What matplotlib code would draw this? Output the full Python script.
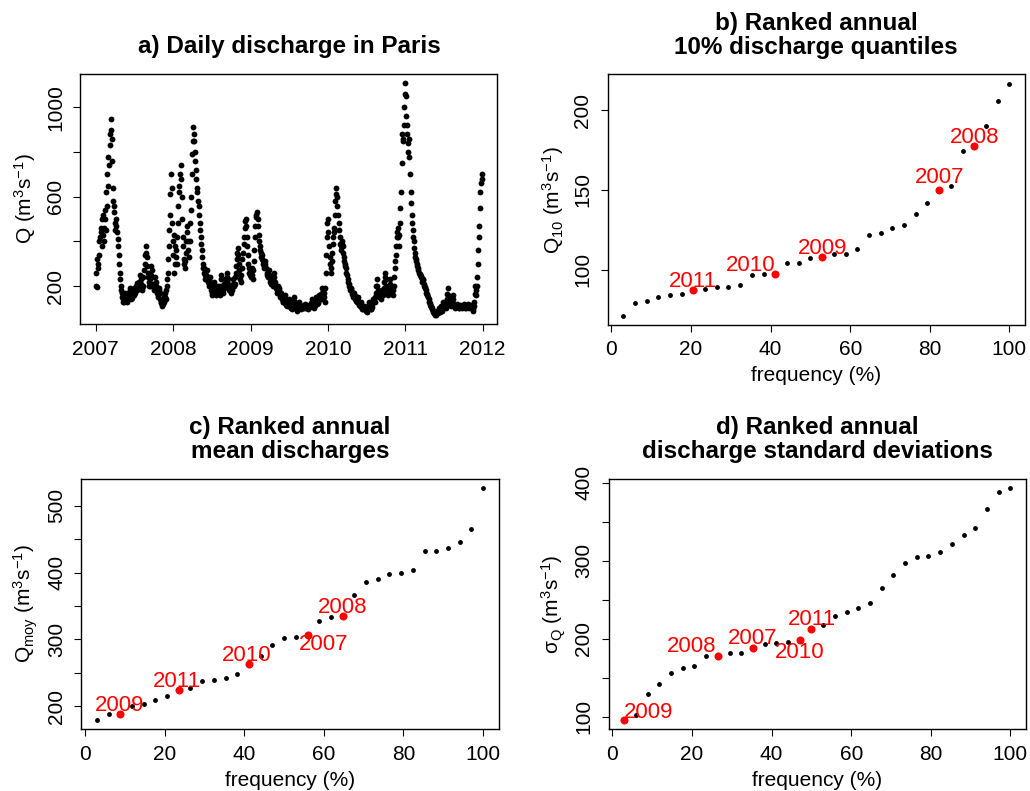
import numpy as np
import matplotlib
matplotlib.use('Agg')
import matplotlib.pyplot as plt
import matplotlib.dates as mdates

##====================================================
# Data
##====================================================
# daily discharge in Paris (m3/s), read every 5 days (day 0, 5, 10, ...)
q2007 = [200, 195, 300, 340, 420, 460, 380, 520, 460, 540, 620, 700, 780, 880, 950, 860,
         640, 530, 480, 500, 440, 380, 300, 230, 180, 150, 140, 130, 170, 150, 140, 175,
         190, 150, 145, 165, 190, 170, 200, 215, 190, 220, 250, 210, 180, 240, 300, 380,
         330, 260, 220, 200, 250, 270, 210, 180, 240, 200, 170, 150, 190, 140, 125, 120,
         150, 170, 140, 230, 320, 450, 610, 700, 480]
q2008 = [340, 430, 300, 360, 420, 560, 650, 740, 600, 420, 320, 280, 350, 440, 400, 330,
         480, 600, 790, 910, 850, 760, 680, 620, 560, 480, 420, 360, 300, 280, 250, 230,
         270, 220, 200, 240, 180, 160, 190, 220, 180, 170, 200, 180, 160, 250, 200, 170,
         190, 230, 200, 260, 210, 180, 200, 170, 190, 230, 210, 260, 320, 370, 300, 250,
         220, 280, 350, 420, 490, 470, 380, 300, 260]
q2009 = [240, 280, 230, 310, 420, 510, 530, 470, 400, 360, 330, 340, 300, 280, 310, 260,
         240, 270, 230, 210, 240, 200, 260, 220, 190, 170, 200, 180, 150, 170, 140, 130,
         160, 120, 110, 130, 140, 110, 100, 95, 120, 150, 110, 100, 90, 110, 130, 105,
         95, 110, 100, 120, 100, 115, 95, 110, 105, 125, 140, 110, 100, 130, 150, 120,
         130, 160, 140, 190, 150, 170, 130, 260, 420]
q2010 = [500, 380, 300, 260, 350, 420, 460, 580, 640, 560, 480, 420, 360, 400, 380, 330,
         300, 280, 250, 220, 200, 180, 190, 165, 150, 170, 140, 130, 150, 120, 110, 130,
         100, 95, 110, 100, 90, 85, 110, 130, 100, 95, 120, 140, 130, 170, 230, 180,
         150, 160, 140, 180, 160, 220, 260, 200, 170, 160, 190, 230, 170, 160, 200, 280,
         340, 420, 460, 380, 480, 620, 880, 850, 1000]
q2011 = [1110, 960, 880, 800, 780, 620, 520, 450, 400, 350, 320, 300, 280, 260, 250, 240,
         220, 230, 200, 190, 170, 160, 140, 125, 110, 100, 90, 80, 75, 70, 90, 80,
         100, 85, 110, 90, 130, 115, 100, 140, 190, 140, 120, 110, 130, 160, 120, 100,
         110, 120, 105, 100, 115, 110, 100, 120, 105, 100, 110, 120, 100, 110, 115, 100,
         90, 130, 200, 160, 240, 360, 470, 620, 700]

# second reading of each year, half way between (day 2.5, 7.5, ...)
m2007 = [260, 320, 280, 400, 440, 500, 430, 400, 500, 450, 560, 650, 740, 830, 900,
         760, 580, 560, 450, 470, 410, 340, 260, 200, 170, 130, 160, 150, 140, 130,
         160, 150, 170, 140, 160, 180, 160, 190, 180, 200, 210, 200, 230, 190, 200,
         270, 340, 350, 290, 240, 200, 230, 290, 240, 190, 200, 220, 180, 160, 180,
         170, 130, 110, 140, 130, 150, 180, 200, 260, 380, 520, 640, 400]
m2008 = [260, 380, 330, 300, 480, 620, 700, 680, 500, 380, 300, 310, 400, 470, 360,
         400, 540, 700, 850, 880, 800, 720, 640, 580, 520, 450, 390, 330, 280, 260,
         230, 250, 240, 210, 220, 200, 170, 170, 210, 200, 160, 190, 190, 170, 200,
         230, 180, 180, 210, 210, 240, 230, 190, 190, 180, 180, 210, 200, 240, 290,
         350, 340, 270, 230, 250, 320, 390, 460, 500, 420, 340, 280, 250]
m2009 = [260, 250, 270, 360, 470, 520, 500, 430, 380, 350, 320, 310, 290, 300, 280,
         250, 260, 250, 220, 230, 220, 230, 240, 200, 180, 190, 190, 160, 160, 150,
         130, 150, 140, 115, 120, 135, 120, 105, 100, 110, 135, 125, 100, 95, 100,
         120, 115, 100, 100, 105, 110, 110, 105, 105, 100, 105, 115, 130, 125, 105,
         115, 140, 135, 125, 145, 150, 165, 170, 160, 150, 190, 340, 480]
m2010 = [440, 330, 280, 310, 390, 440, 520, 610, 600, 520, 450, 390, 380, 390, 350,
         310, 290, 260, 230, 210, 190, 185, 175, 160, 160, 155, 135, 140, 135, 115,
         120, 115, 98, 100, 105, 95, 88, 95, 120, 115, 98, 108, 130, 135, 150,
         200, 200, 165, 155, 150, 160, 170, 190, 240, 230, 185, 165, 175, 210, 200,
         165, 180, 240, 310, 380, 440, 420, 430, 550, 750, 860, 920, 1060]
m2011 = [1050, 920, 840, 860, 700, 570, 480, 420, 370, 330, 310, 290, 270, 255, 245,
         230, 225, 210, 195, 180, 165, 150, 130, 115, 105, 95, 85, 78, 72, 80,
         85, 90, 92, 100, 100, 110, 120, 105, 120, 165, 160, 130, 115, 120, 145,
         140, 110, 105, 115, 112, 102, 108, 112, 105, 110, 112, 102, 105, 115, 110,
         105, 112, 108, 95, 110, 165, 180, 200, 300, 420, 550, 660, 680]

daily_years = [2007, 2008, 2009, 2010, 2011]
daily_values = [q2007, q2008, q2009, q2010, q2011]
daily_mid = [m2007, m2008, m2009, m2010, m2011]
step_hours = 120   # 5 days

# ranked annual statistics (34 years), sorted ascending
q10 = [71.0, 78.8, 80.4, 82.9, 84.0, 85.0, 87.5, 87.9, 89.0, 89.0, 90.4, 96.5, 97.1, 97.1,
       104.2, 104.2, 107.5, 107.9, 110.0, 110.0, 112.9, 121.5, 122.9, 126.0, 128.1, 135.0,
       142.1, 150.0, 152.5, 174.6, 177.5, 190.0, 205.6, 216.7]
qmoy = [179, 187.5, 188, 200, 203, 209, 215, 224, 227, 237.5, 238.5, 242.5, 247.5, 263,
        275.5, 291, 302, 303, 306, 327, 334, 335.5, 367, 386.5, 390, 397.5, 400, 403.5,
        432, 432.5, 436.5, 445.5, 465.5, 527]
qsd = [95.7, 102.1, 128.5, 142.1, 156.1, 162.5, 164.6, 177.3, 178.2, 181.6, 181.6, 187.5,
       192.6, 193.9, 195.6, 197.7, 212.2, 217.3, 228.8, 233.9, 239.4, 246.2, 264.9, 281.0,
       297.2, 304.0, 306.1, 310.8, 321.8, 332.9, 341.4, 365.6, 387.7, 393.2]

# highlighted years and their rank in each ranking
years = [2007, 2008, 2009, 2010, 2011]
rank_q10 = [28, 31, 18, 14, 7]
rank_qmoy = [19, 22, 3, 14, 8]
rank_qsd = [12, 9, 1, 16, 17]

##====================================================
# Style
##====================================================
plt.rcParams['font.family'] = ['Liberation Sans', 'DejaVu Sans']
plt.rcParams['mathtext.fontset'] = 'custom'
plt.rcParams['mathtext.rm'] = 'Liberation Sans'
plt.rcParams['mathtext.it'] = 'Liberation Sans:italic'
plt.rcParams['mathtext.default'] = 'regular'
plt.rcParams['axes.linewidth'] = 1.0
plt.rcParams['xtick.major.size'] = 5
plt.rcParams['ytick.major.size'] = 5
plt.rcParams['xtick.major.pad'] = 6
plt.rcParams['ytick.major.pad'] = 6
plt.rcParams['xtick.labelsize'] = 15
plt.rcParams['ytick.labelsize'] = 15
plt.rcParams['axes.labelsize'] = 15

fig = plt.figure(figsize=(10.3, 7.91), dpi=100)
w, h = 0.405, 0.317
ax_a = fig.add_axes([0.078, 0.590, w, h])
ax_b = fig.add_axes([0.590, 0.589, w, h])
ax_c = fig.add_axes([0.079, 0.078, w, h])
ax_d = fig.add_axes([0.591, 0.078, w, h])

title_kw = dict(fontsize=17.5, fontweight='bold', pad=15, linespacing=1.05)

##====================================================
# a) daily discharge
##====================================================
for yr, vals, mids in zip(daily_years, daily_values, daily_mid):
    start = np.datetime64('%d-01-01T00' % yr)
    t = start + np.arange(len(vals)) * np.timedelta64(step_hours, 'h')
    ax_a.plot(t, vals, 'o', color='black', ms=4.2, mew=0)
    ax_a.plot(t + np.timedelta64(step_hours // 2, 'h'), mids, 'o', color='black', ms=4.2, mew=0)
ax_a.margins(x=0.04, y=0.04)
year_ticks = [np.datetime64('%d-01-01' % y) for y in range(2007, 2013)]
ax_a.set_xticks(year_ticks)
ax_a.xaxis.set_major_formatter(mdates.DateFormatter('%Y'))
ax_a.set_yticks([200, 400, 600, 800, 1000])
ax_a.set_yticklabels(['200', '', '600', '', '1000'])
ax_a.set_ylabel('Q (m$^{3}$s$^{-1}$)', labelpad=6)
ax_a.set_title('a) Daily discharge in Paris', **title_kw)

##====================================================
# b), c), d) ranked annual statistics
##====================================================
def ranked_panel(ax, vals, ranks, offsets, yticks, ylabels, ylab, title):
    n = len(vals)
    freq = np.arange(1, n + 1) / n * 100
    ax.plot(freq, vals, 'o', color='black', ms=3.5, mew=0)
    for yr, r, (dx, dy) in zip(years, ranks, offsets):
        ax.plot(freq[r - 1], vals[r - 1], 'o', color='red', ms=5.8, mew=0)
        ax.annotate(str(yr), (freq[r - 1], vals[r - 1]), xytext=(dx, dy),
                    textcoords='offset pixels', ha='center', va='baseline',
                    color='red', fontsize=16)
    ax.margins(x=0.04, y=0.04)
    ax.set_xticks([0, 20, 40, 60, 80, 100])
    ax.set_yticks(yticks)
    ax.set_yticklabels(ylabels)
    ax.set_xlabel('frequency (%)', labelpad=5)
    ax.set_ylabel(ylab, labelpad=5)
    ax.set_title(title, **title_kw)

# label offsets in pixels, same order as years
off_b = [(0, 7), (0, 3), (0, 3), (-25, 3), (0, 3)]
off_c = [(16, -15), (0, 3), (-1, 3), (-2, 3), (-2, 3)]
off_d = [(0, 4), (-26, 4), (24, 2), (0, -18), (0, 4)]

ranked_panel(ax_b, q10, rank_q10, off_b, [100, 150, 200], ['100', '150', '200'],
             'Q$_{10}$ (m$^{3}$s$^{-1}$)', 'b) Ranked annual\n10% discharge quantiles')
ranked_panel(ax_c, qmoy, rank_qmoy, off_c, [200, 250, 300, 350, 400, 450, 500],
             ['200', '', '300', '', '400', '', '500'],
             'Q$_{moy}$ (m$^{3}$s$^{-1}$)', 'c) Ranked annual\nmean discharges')
ranked_panel(ax_d, qsd, rank_qsd, off_d, [100, 150, 200, 250, 300, 350, 400],
             ['100', '', '200', '', '300', '', '400'],
             'σ$_{Q}$ (m$^{3}$s$^{-1}$)', 'd) Ranked annual\ndischarge standard deviations')

for ax in [ax_a, ax_b, ax_c, ax_d]:
    for lab in ax.get_yticklabels():
        lab.set_rotation(90)
        lab.set_va('center')

plt.savefig('out.png', dpi=100)
